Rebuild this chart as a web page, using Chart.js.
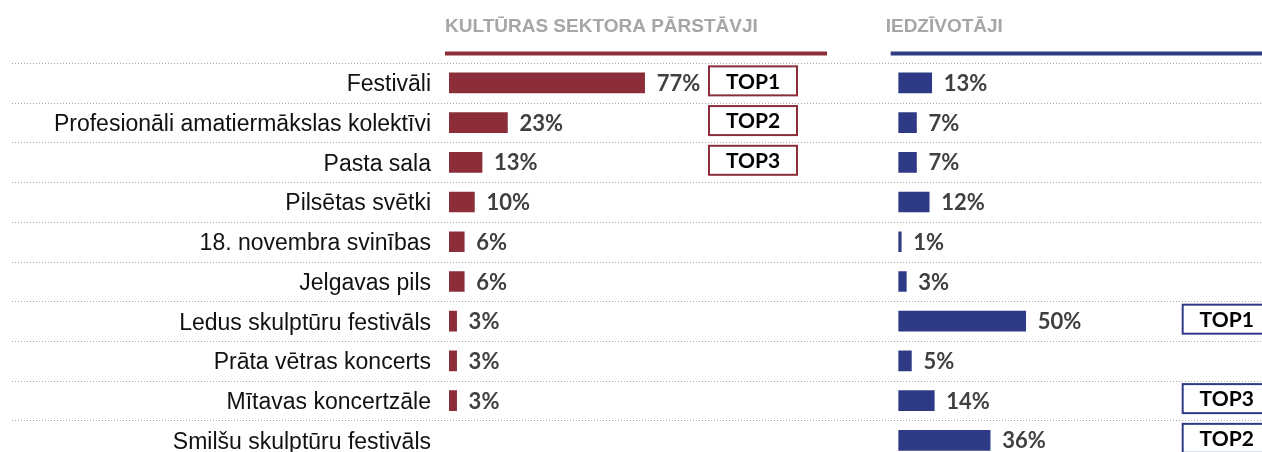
<!DOCTYPE html>
<html>
<head>
<meta charset="utf-8">
<script src="https://cdn.jsdelivr.net/npm/chart.js@4.4.0/dist/chart.umd.min.js"></script>
<style>
  html, body { margin: 0; padding: 0; background: #fff; overflow: hidden; }
  #wrap { position: relative; width: 1262px; height: 452px; overflow: hidden; }
</style>
</head>
<body>
<div id="wrap"><canvas id="chart" width="1262" height="492"></canvas></div>
<script>
const categories = [
  'Festivāli',
  'Profesionāli amatiermākslas kolektīvi',
  'Pasta sala',
  'Pilsētas svētki',
  '18. novembra svinības',
  'Jelgavas pils',
  'Ledus skulptūru festivāls',
  'Prāta vētras koncerts',
  'Mītavas koncertzāle',
  'Smilšu skulptūru festivāls'
];
const cultureSector = [77, 23, 13, 10, 6, 6, 3, 3, 3, null];
const residents = [13, 7, 7, 12, 1, 3, 50, 5, 14, 36];
const cultureTop = [1, 2, 3, null, null, null, null, null, null, null];
const residentsTop = [null, null, null, null, null, null, 1, null, 3, 2];
const panelTitles = ['KULTŪRAS SEKTORA PĀRSTĀVJI', 'IEDZĪVOTĀJI'];

const RED = '#8b2e3a';
const BLUE = '#2f3a86';
const leftMax = 320;
const rightOffset = 177;

// dotted row separators, panel headers, value labels and TOP boxes
const decorPlugin = {
  id: 'decor',
  beforeDatasetsDraw(chart) {
    const ctx = chart.ctx;
    const y = chart.scales.y;
    ctx.save();
    ctx.strokeStyle = '#a8a8a8';
    ctx.lineWidth = 1;
    ctx.setLineDash([1, 2]);
    for (let i = 0; i < categories.length; i++) {
      const py = Math.round(y.getPixelForValue(i - 0.5)) + 0.5;
      ctx.beginPath();
      ctx.moveTo(12, py);
      ctx.lineTo(chart.width, py);
      ctx.stroke();
    }
    ctx.restore();
  },
  afterDatasetsDraw(chart) {
    const ctx = chart.ctx;
    const y = chart.scales.y;
    const xL0 = chart.scales.xL.getPixelForValue(0);
    const xR0 = chart.scales.xR.getPixelForValue(0);

    ctx.save();
    // headers
    ctx.font = 'bold 19px "Liberation Sans", Arial, sans-serif';
    ctx.fillStyle = '#a6a6a6';
    ctx.textBaseline = 'alphabetic';
    ctx.textAlign = 'left';
    ctx.fillText(panelTitles[0], xL0 - 4, 32);
    ctx.fillText(panelTitles[1], xR0 - 13, 32);
    ctx.lineWidth = 4;
    ctx.strokeStyle = RED;
    ctx.beginPath();
    ctx.moveTo(xL0 - 4, 53.5);
    ctx.lineTo(827, 53.5);
    ctx.stroke();
    ctx.strokeStyle = BLUE;
    ctx.beginPath();
    ctx.moveTo(xR0 - 8, 53.5);
    ctx.lineTo(chart.width, 53.5);
    ctx.stroke();

    // value labels
    ctx.font = 'bold 22px Lato, "Open Sans", sans-serif';
    ctx.fillStyle = '#404040';
    ctx.textBaseline = 'middle';
    chart.data.datasets.forEach((ds, di) => {
      const meta = chart.getDatasetMeta(di);
      meta.data.forEach((bar, i) => {
        const v = ds.data[i];
        if (v === null) return;
        ctx.fillText(v + '%', bar.x + 12, bar.y + 1);
      });
    });

    // TOP boxes
    const boxes = [[cultureTop, xL0 + 260, RED], [residentsTop, xR0 + 284, BLUE]];
    ctx.font = 'bold 21px Lato, "Open Sans", sans-serif';
    ctx.textAlign = 'center';
    boxes.forEach(([ranks, bx, color]) => {
      ranks.forEach((r, i) => {
        if (r === null) return;
        const cy = y.getPixelForValue(i) - 2;
        ctx.fillStyle = '#fff';
        ctx.fillRect(bx, cy - 14.5, 88, 29);
        ctx.strokeStyle = color;
        ctx.lineWidth = 2;
        ctx.strokeRect(bx, cy - 14.5, 88, 29);
        ctx.fillStyle = '#000';
        ctx.fillText('TOP' + r, bx + 44, cy + 1);
      });
    });
    ctx.restore();
  }
};

new Chart(document.getElementById('chart'), {
  type: 'bar',
  data: {
    labels: categories,
    datasets: [
      {
        label: panelTitles[0],
        data: cultureSector,
        backgroundColor: RED,
        xAxisID: 'xL',
        grouped: false,
        barThickness: 20
      },
      {
        label: panelTitles[1],
        data: residents,
        backgroundColor: BLUE,
        xAxisID: 'xR',
        grouped: false,
        barThickness: 20
      }
    ]
  },
  options: {
    indexAxis: 'y',
    responsive: false,
    animation: false,
    layout: { padding: { top: 63, left: 0, right: 0, bottom: 0 } },
    plugins: {
      legend: { display: false },
      tooltip: { enabled: false }
    },
    scales: {
      y: {
        grid: { display: false, drawTicks: false },
        border: { display: false },
        ticks: {
          padding: 18,
          labelOffset: 2,
          color: '#111',
          font: { family: '"Liberation Sans", Arial, sans-serif', size: 23 }
        },
        afterFit(scale) { scale.width = 449; }
      },
      xL: {
        type: 'linear',
        position: 'bottom',
        display: false,
        min: 0,
        max: leftMax
      },
      xR: {
        type: 'linear',
        position: 'bottom',
        display: false,
        min: -rightOffset,
        max: leftMax - rightOffset
      }
    }
  },
  plugins: [decorPlugin]
});
</script>
</body>
</html>
